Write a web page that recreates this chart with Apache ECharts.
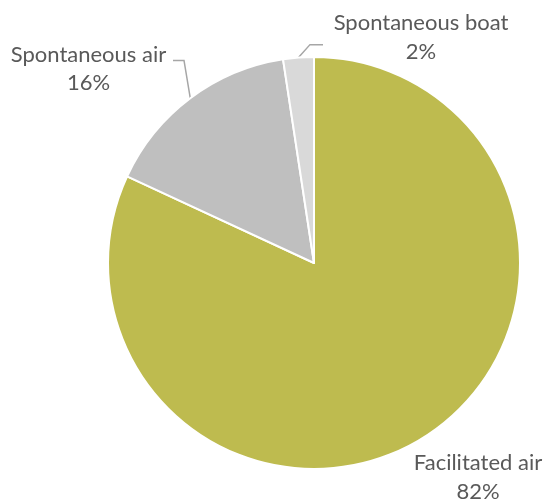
<!DOCTYPE html>
<html><head><meta charset="utf-8">
<script src="https://cdn.jsdelivr.net/npm/echarts@6/dist/echarts.min.js"></script>
<style>html,body{margin:0;padding:0;background:#fff}#c{width:547px;height:502px}</style>
</head><body><div id="c"></div>
<script>
const categories = ['Facilitated air', 'Spontaneous air', 'Spontaneous boat'];
const values = [81.9, 15.7, 2.4];
const colors = ['#BEBB4F', '#BFBFBF', '#D9D9D9'];
// label box centre; spacer line placed before (-1) / after (1) / none (0) the text, used to set where the leader meets the label
const labelPos = [[478, 477.5], [88.5, 62], [421, 43]];
const spacerSide = [0, -1, 1];
const spacerStyle = ['', 'sa', 'sb'];
const leader2 = [0, 11, 13];

const chart = echarts.init(document.getElementById('c'));
chart.setOption({
  animation: false,
  series: [{
    type: 'pie',
    center: [314, 263],
    radius: [0, 206],
    startAngle: 90,
    clockwise: true,
    data: categories.map((n, i) => ({
      name: n, value: values[i],
      itemStyle: { color: colors[i] },
      labelLine: { show: i !== 0, length2: leader2[i] }
    })),
    itemStyle: { borderColor: '#fff', borderWidth: 2 },
    percentPrecision: 0,
    label: {
      show: true,
      formatter: function (p) {
        const body = '{t|' + p.name + '}\n{t|' + p.percent + '%}';
        const side = spacerSide[p.dataIndex];
        const sp = '{' + spacerStyle[p.dataIndex] + '|}';
        if (side < 0) return sp + '\n' + body;
        if (side > 0) return body + '\n' + sp;
        return body;
      },
      align: 'center',
      overflow: 'none',
      rich: {
        t: { fontFamily: 'Lato', fontSize: 22, lineHeight: 28.5, color: '#595959', align: 'center' },
        sa: { width: 169, height: 14, lineHeight: 14, fontSize: 1, align: 'center' },
        sb: { width: 196, height: 11, lineHeight: 11, fontSize: 1, align: 'center' }
      }
    },
    labelLine: { lineStyle: { color: '#A6A6A6', width: 1.5 }, length: 12 },
    labelLayout: function (p) {
      const pos = labelPos[p.dataIndex];
      return { x: pos[0], y: pos[1], align: 'center', verticalAlign: 'middle' };
    }
  }]
});
</script></body></html>
